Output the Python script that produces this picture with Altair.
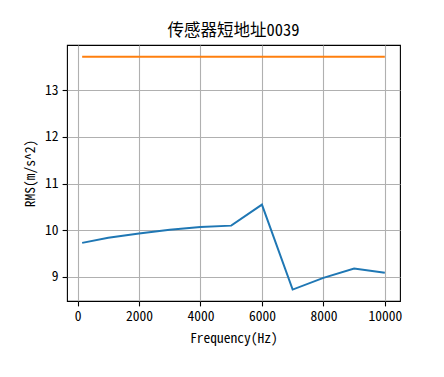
import altair as alt
import pandas as pd

freq = [150, 1000, 2000, 3000, 4000, 5000, 6000, 7000, 8000, 9000, 10000]
rms = [9.73, 9.84, 9.93, 10.01, 10.07, 10.10, 10.55, 8.73, 8.98, 9.18, 9.09]
limit = [13.72] * len(freq)
series_names = ["RMS", "Limit"]
colors = ["#1f77b4", "#ff7f0e"]

rows = []
for f, v in zip(freq, rms):
    rows.append({"f": f, "v": v, "s": series_names[0]})
for f, v in zip(freq, limit):
    rows.append({"f": f, "v": v, "s": series_names[1]})
df = pd.DataFrame(rows)

font = "Noto Sans Mono CJK SC, Noto Sans CJK SC"

chart = alt.Chart(df).mark_line(strokeWidth=2).encode(
    x=alt.X("f:Q", scale=alt.Scale(domain=[-343, 10493], nice=False, zero=False),
            axis=alt.Axis(values=[0, 2000, 4000, 6000, 8000, 10000], format="d", title="Frequency(Hz)")),
    y=alt.Y("v:Q", scale=alt.Scale(domain=[8.485, 13.97], nice=False, zero=False),
            axis=alt.Axis(values=[9, 10, 11, 12, 13], format="d", title="RMS(m/s^2)")),
    color=alt.Color("s:N", scale=alt.Scale(domain=series_names, range=colors), legend=None),
).properties(
    width=333, height=256,
    title=alt.TitleParams("传感器短地址0039", font=font, fontSize=16.5, fontWeight="normal", offset=6, color="black"),
    padding={"left": 67, "top": 45, "right": 44, "bottom": 76},
    autosize=alt.AutoSizeParams(type="none"),
).configure_view(
    stroke="black", strokeWidth=1.1
).configure_axis(
    domain=False,
    grid=True, gridColor="#b0b0b0", gridWidth=1.1,
    ticks=True, tickColor="black", tickSize=4.9, tickWidth=1.1,
    labelFont=font, labelFontSize=13.5, labelColor="black", labelPadding=4,
    titleFont=font, titleFontSize=13.5, titleFontWeight="normal", titleColor="black",
).configure_axisX(titlePadding=8).configure_axisY(titlePadding=7)

chart.save("out.html", embed_options={"renderer": "svg", "actions": False})
